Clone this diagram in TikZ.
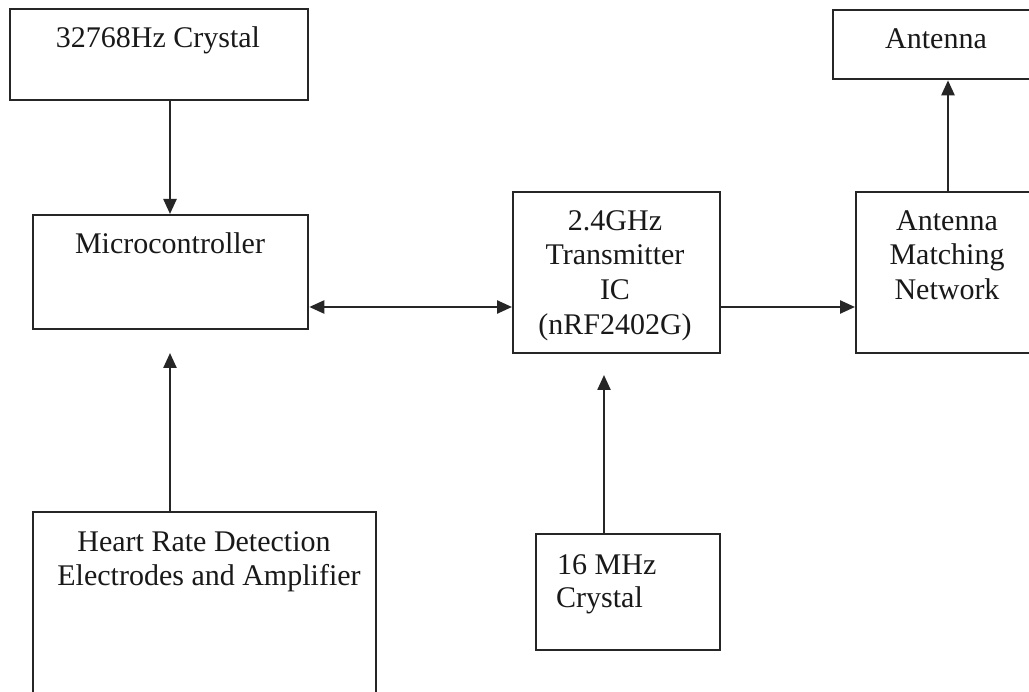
\documentclass[tikz,border=0pt]{standalone}
\usepackage{fontspec}
\setmainfont{Liberation Serif}
\usetikzlibrary{arrows.meta,calc}
\begin{document}
\begin{tikzpicture}[x=1pt,y=-1pt,
  box/.style={draw=black!85, line width=2.3pt, anchor=north west, inner sep=0pt},
  lbl/.style={font=\fontsize{30}{35}\selectfont, inner sep=0pt, anchor=base, text=black!90},
  lbll/.style={lbl, anchor=base west},
  arr/.style={line width=2.4pt, draw=black!85, -{Triangle[length=15pt,width=13pt]}},
  darr/.style={line width=2.4pt, draw=black!85, {Triangle[length=15pt,width=13pt]}-{Triangle[length=15pt,width=13pt]}}]
\useasboundingbox[fill=white] (0,0) rectangle (1029,692);
% boxes
\node[box, minimum width=298pt, minimum height=91pt] (cr32) at (9,8) {};
\node[box, minimum width=275pt, minimum height=114pt] (mc) at (32,214) {};
\node[box, minimum width=343pt, minimum height=190pt] (heart) at (32,511) {};
\node[box, minimum width=207pt, minimum height=161pt] (tx) at (512,191) {};
\node[box, minimum width=180pt, minimum height=161pt] (mn) at (855,191) {};
\node[box, minimum width=200pt, minimum height=69pt] (ant) at (832,9) {};
\node[box, minimum width=184pt, minimum height=116pt] (mhz) at (535,533) {};
% labels
\node[lbl] (cr32t) at (158,48) {32768Hz Crystal};
\node[lbl] (mct) at (170,254) {Microcontroller};
\node[lbl] (hrt1) at (204,551) {Heart Rate Detection};
\node[lbl] (hrt2) at (209,586) {Electrodes and Amplifier};
\node[lbl] (txt1) at (615,231) {2.4GHz};
\node[lbl] (txt2) at (615,265) {Transmitter};
\node[lbl] (txt3) at (615,300) {IC};
\node[lbl] (txt4) at (615,335) {(nRF2402G)};
\node[lbl] (mnt1) at (947,231) {Antenna};
\node[lbl] (mnt2) at (947,265) {Matching};
\node[lbl] (mnt3) at (947,300) {Network};
\node[lbl] (antt) at (936,49) {Antenna};
\node[lbll] (mhzt1) at (557,574) {16 MHz};
\node[lbll] (mhzt2) at (556,608) {Crystal};
% connectors
\coordinate (ax1) at (170,0);
\coordinate (hrtip) at (170,353);
\coordinate (ay) at (0,307);
\coordinate (mztip) at (604,375);
\coordinate (ax2) at (948,0);
\draw[arr] (cr32.south -| ax1) -- (mc.north -| ax1);
\draw[arr] (heart.north -| hrtip) -- (hrtip);
\draw[darr] (mc.east |- ay) -- (tx.west |- ay);
\draw[arr] (tx.east |- ay) -- (mn.west |- ay);
\draw[arr] (mhz.north -| mztip) -- (mztip);
\draw[arr] (mn.north -| ax2) -- (ant.south -| ax2);
\end{tikzpicture}
\end{document}
